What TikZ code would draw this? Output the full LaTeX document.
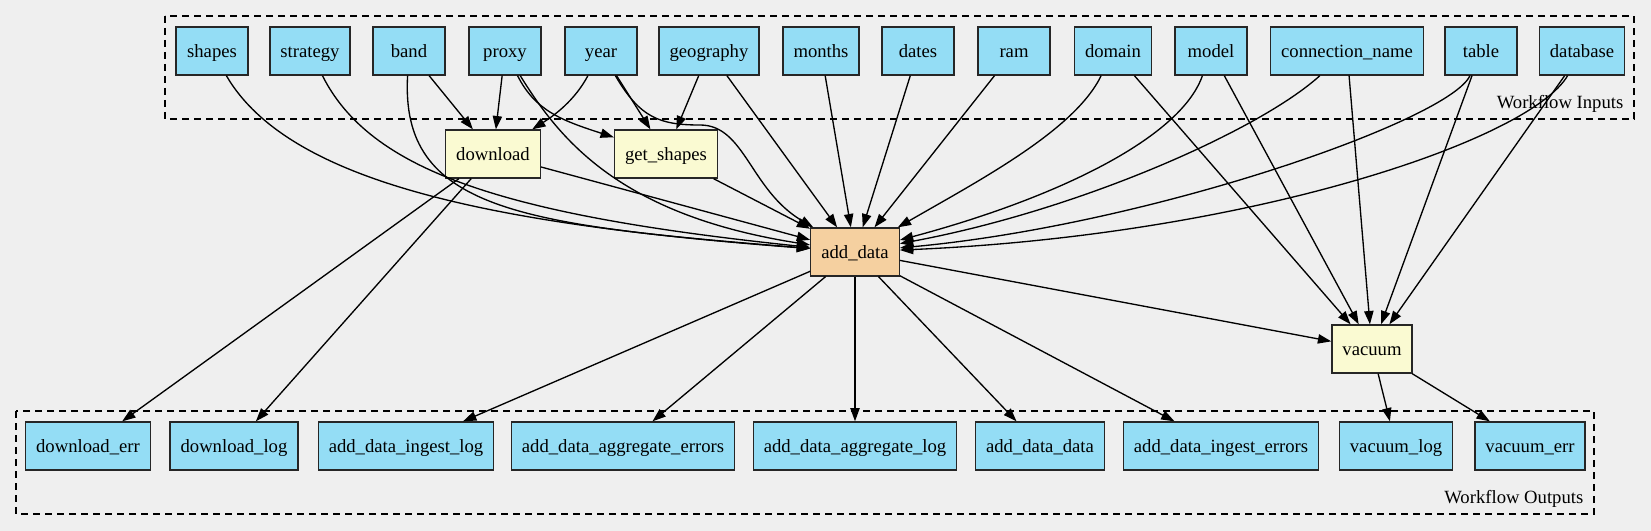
\documentclass[tikz,border=0pt]{standalone}
\usepackage{fontspec}
\setmainfont{Liberation Serif}
\usetikzlibrary{arrows.meta}
\definecolor{blue1}{HTML}{94DDF5}
\definecolor{yellow1}{HTML}{FAFAD2}
\definecolor{orange1}{HTML}{F5D0A0}
\definecolor{back1}{HTML}{EFEFEF}
\begin{document}
\begin{tikzpicture}[x=0.75pt, y=-0.75pt, line width=1pt,
  box/.style={draw=black!85, minimum width=54pt, minimum height=36pt, inner xsep=7.9pt,
    text height=12pt, text depth=2.6pt, font=\fontsize{14}{16}\selectfont},
  io/.style={box, fill=blue1},
  task/.style={box, fill=yellow1},
  main/.style={box, fill=orange1},
  flow/.style={-{Triangle[length=10pt,width=7pt]}},
  cluster/.style={dash pattern=on 5pt off 4pt},
  clabel/.style={anchor=east, inner sep=0pt, font=\fontsize{14}{16}\selectfont}]
  \fill[back1] (0,0) rectangle (1651,531);
  \draw[cluster] (165,16) rectangle (1634,119);
  \draw[cluster] (16,411) rectangle (1594,514);
  \node[clabel] (inlabel) at (1624,104) {Workflow Inputs};
  \node[clabel] (outlabel) at (1584,499) {Workflow Outputs};
  % inputs
  \node[io] (shapes) at (212,51) {shapes};
  \node[io] (strategy) at (310,51) {strategy};
  \node[io] (band) at (409,51) {band};
  \node[io] (proxy) at (505,51) {proxy};
  \node[io] (year) at (601,51) {year};
  \node[io] (geography) at (709,51) {geography};
  \node[io] (months) at (821,51) {months};
  \node[io] (dates) at (918,51) {dates};
  \node[io] (ram) at (1014,51) {ram};
  \node[io] (domain) at (1113,51) {domain};
  \node[io] (model) at (1211,51) {model};
  \node[io] (connection) at (1347,51) {connection\_name};
  \node[io] (table) at (1481,51) {table};
  \node[io] (database) at (1582,51) {database};
  % tasks
  \node[task] (download) at (493,154) {download};
  \node[task] (getshapes) at (666,154) {get\_shapes};
  \node[main] (adddata) at (855,252) {add\_data};
  \node[task] (vacuum) at (1372,349) {vacuum};
  % outputs
  \node[io] (dlerr) at (88,446) {download\_err};
  \node[io] (dllog) at (234,446) {download\_log};
  \node[io] (inglog) at (406,446) {add\_data\_ingest\_log};
  \node[io] (aggerr) at (623,446) {add\_data\_aggregate\_errors};
  \node[io] (agglog) at (855,446) {add\_data\_aggregate\_log};
  \node[io] (adddatadata) at (1040,446) {add\_data\_data};
  \node[io] (ingerr) at (1221,446) {add\_data\_ingest\_errors};
  \node[io] (vaclog) at (1396,446) {vacuum\_log};
  \node[io] (vacerr) at (1530,446) {vacuum\_err};
  \foreach \from/\to in {band/download, proxy/download, year/getshapes, geography/getshapes,
    geography/adddata, months/adddata, dates/adddata, ram/adddata,
    domain/vacuum, model/vacuum, connection/vacuum, table/vacuum, database/vacuum,
    download/adddata, getshapes/adddata, download/dlerr, download/dllog,
    adddata/vacuum, adddata/inglog, adddata/aggerr, adddata/agglog, adddata/adddatadata, adddata/ingerr,
    vacuum/vaclog, vacuum/vacerr}
   \draw[flow] (\from) -- (\to);
  \draw[flow] (shapes) .. controls (290,185) and (500,225) .. (adddata);
  \draw[flow] (strategy) .. controls (370,170) and (500,215) .. (adddata);
  \draw[flow] (band) .. controls (400,210) and (520,225) .. (adddata);
  \draw[flow] (proxy) .. controls (535,110) and (560,120) .. (getshapes);
  \draw[flow] (proxy) .. controls (560,140) and (620,215) .. (adddata);
  \draw[flow] (year) .. controls (575,100) and (555,115) .. (download);
  \draw[flow] (year) .. controls (640,118) and (660,125) .. (700,125) .. controls (745,125) and (750,190) .. (adddata);
  \draw[flow] (domain) .. controls (1075,130) and (980,180) .. (adddata);
  \draw[flow] (model) .. controls (1180,140) and (1050,200) .. (adddata);
  \draw[flow] (connection) .. controls (1260,130) and (1080,210) .. (adddata);
  \draw[flow] (table) .. controls (1450,120) and (1150,225) .. (adddata);
  \draw[flow] (database) .. controls (1530,140) and (1250,235) .. (adddata);
\end{tikzpicture}
\end{document}
